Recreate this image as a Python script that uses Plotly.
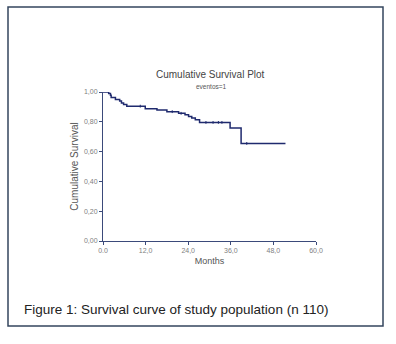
import plotly.graph_objects as go

# Kaplan-Meier step curve (months, cumulative survival)
months = [0, 1.6, 2.1, 2.3, 3.5, 4.7, 5.2, 5.8, 6.7, 11.9, 15.2, 18.0, 21.3, 23.1, 24.1, 25.0, 26.0, 27.2, 35.8, 38.9, 51.4]
survival = [1.00, 0.99, 0.978, 0.963, 0.95, 0.94, 0.927, 0.916, 0.905, 0.888, 0.879, 0.868, 0.857, 0.848, 0.835, 0.825, 0.814, 0.796, 0.758, 0.655, 0.655]
# censoring marks
cens_months = [10.5, 19.5, 22.0, 29.0, 31.0, 32.5, 33.5, 40.5]
cens_surv = [0.905, 0.868, 0.857, 0.796, 0.796, 0.796, 0.796, 0.655]

x_ticks = [0, 12, 24, 36, 48, 60]
x_ticktext = ["0.0", "12,0", "24,0", "36,0", "48,0", "60,0"]
y_ticks = [0, 0.2, 0.4, 0.6, 0.8, 1.0]
y_ticktext = ["0,00", "0,20", "0,40", "0,60", "0,80", "1,00"]

W, H = 396, 344
L, R, T, B = 103, 80, 92, 103
pw, ph = W - L - R, H - T - B

def px(x):
    return (x - L) / pw

def py(y):
    return (H - B - y) / ph

fig = go.Figure()
fig.add_trace(go.Scatter(x=months, y=survival, mode="lines", line=dict(shape="hv", color="#1f2a6e", width=1.5),
                         hoverinfo="skip", showlegend=False))
fig.add_trace(go.Scatter(x=cens_months, y=cens_surv, mode="markers",
                         marker=dict(symbol="line-ns", size=2, line=dict(color="#1f2a6e", width=1)),
                         hoverinfo="skip", showlegend=False))

axis_col = "#3b4a7a"
tick_font = dict(family="Liberation Sans, Arial", size=7, color="#808080")
fig.update_xaxes(range=[0, 60], tickvals=x_ticks, ticktext=x_ticktext, showgrid=False, zeroline=False,
                 showline=True, linecolor=axis_col, linewidth=1, ticks="outside", ticklen=3, tickcolor=axis_col,
                 tickfont=tick_font,
                 title=dict(text="Months", font=dict(family="Liberation Sans, Arial", size=9, color="#555555"), standoff=4))
fig.update_yaxes(range=[0, 1], tickvals=y_ticks, ticktext=y_ticktext, showgrid=False, zeroline=False,
                 showline=True, linecolor=axis_col, linewidth=1, ticks="outside", ticklen=3, tickcolor=axis_col,
                 tickfont=tick_font,
                 title=dict(text="Cumulative Survival", font=dict(family="Liberation Sans, Arial", size=10, color="#555555"), standoff=3))

fig.update_layout(
    width=W, height=H, margin=dict(l=L, r=R, t=T, b=B),
    paper_bgcolor="white", plot_bgcolor="white",
    shapes=[dict(type="rect", xref="paper", yref="paper", x0=px(8), x1=px(383), y0=py(7), y1=py(326),
                 line=dict(color="#34465e", width=1.5), fillcolor="rgba(0,0,0,0)", layer="below")],
    annotations=[
        dict(text="Cumulative Survival Plot", xref="paper", yref="paper", x=px(210), y=py(74), showarrow=False,
             xanchor="center", yanchor="middle", font=dict(family="Liberation Sans, Arial", size=10, color="#444444")),
        dict(text="eventos=1", xref="paper", yref="paper", x=px(211), y=py(86), showarrow=False,
             xanchor="center", yanchor="middle", font=dict(family="Liberation Sans, Arial", size=6.5, color="#555555")),
        dict(text="Figure 1: Survival curve of study population (n 110)", xref="paper", yref="paper", x=px(22), y=py(309),
             showarrow=False, xanchor="left", yanchor="middle", font=dict(family="Liberation Sans, Arial", size=13.5, color="#222222")),
    ],
)

fig.write_html("out.html")
